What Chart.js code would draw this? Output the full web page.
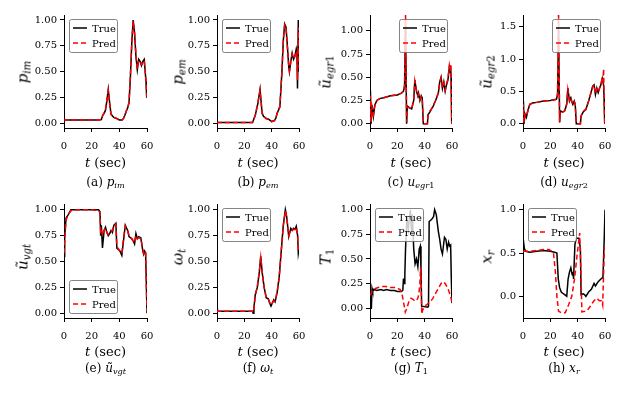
<!DOCTYPE html>
<html>
<head>
<meta charset="utf-8">
<script src="https://cdn.jsdelivr.net/npm/chart.js@4.4.1/dist/chart.umd.min.js"></script>
<style>
  body { margin: 0; background: #fff; }
  #fig { position: relative; width: 626px; height: 394px; overflow: hidden; font-family: 'DejaVu Serif', 'Liberation Serif', serif; }
  canvas { position: absolute; }
  .lbl { position: absolute; white-space: nowrap; color: #000; line-height: 1; font-weight: normal; }
  .ylab { font-size: 15px; transform: translate(-50%, -50%) rotate(-90deg); }
  .xlab { font-size: 13px; transform: translate(-50%, -50%); }
  .cap { font-size: 12px; transform: translate(-50%, -50%); }
  sub { font-size: 0.68em; vertical-align: -0.3em; line-height: 0; }
</style>
</head>
<body>
<div id="fig"></div>
<script>
// ---------- datos ----------
// (a) p_im
const aT    = [0, 1, 5, 10, 15, 20, 25, 27, 28, 29, 30, 31, 32, 33, 34, 36, 38, 40, 42, 43, 44, 45, 46, 47, 48, 49, 50, 51, 52, 53, 54, 55, 56, 57, 58, 58.7, 59.3, 59.8];
const aTrue = [0.035, 0.035, 0.035, 0.035, 0.035, 0.035, 0.035, 0.04, 0.08, 0.1, 0.13, 0.22, 0.33, 0.2, 0.09, 0.06, 0.05, 0.035, 0.035, 0.05, 0.08, 0.12, 0.15, 0.2, 0.45, 0.78, 1.0, 0.88, 0.65, 0.52, 0.62, 0.6, 0.56, 0.6, 0.62, 0.5, 0.4, 0.25];
const aPred = [0.035, 0.035, 0.035, 0.035, 0.035, 0.035, 0.035, 0.04, 0.08, 0.1, 0.14, 0.23, 0.32, 0.19, 0.09, 0.06, 0.05, 0.035, 0.035, 0.05, 0.08, 0.12, 0.15, 0.21, 0.46, 0.77, 0.99, 0.87, 0.66, 0.53, 0.61, 0.6, 0.57, 0.59, 0.61, 0.5, 0.41, 0.26];

// (b) p_em
const bT    = [0, 5, 10, 15, 20, 26, 28, 30, 31.5, 33, 34, 36, 38, 40, 42, 43, 44, 46, 47.5, 48.5, 49.5, 50.5, 51.5, 52.5, 53, 54, 55, 56, 57, 58, 58.5, 58.9, 59.5, 60];
const bTrue = [0.01, 0.01, 0.01, 0.01, 0.01, 0.01, 0.08, 0.2, 0.33, 0.1, 0.07, 0.05, 0.04, 0.02, 0.03, 0.05, 0.1, 0.16, 0.5, 0.8, 0.96, 0.93, 0.75, 0.55, 0.5, 0.6, 0.68, 0.62, 0.65, 0.72, 0.68, 0.34, 1.0, 0.5];
const bPred = [0.01, 0.01, 0.01, 0.01, 0.01, 0.01, 0.08, 0.21, 0.32, 0.11, 0.07, 0.05, 0.04, 0.02, 0.03, 0.05, 0.1, 0.17, 0.5, 0.79, 0.95, 0.92, 0.74, 0.56, 0.51, 0.6, 0.67, 0.63, 0.65, 0.7, 0.7, 0.42, 0.93, 0.55];

// (c) u_egr1 y (d) u_egr2 comparten instantes
const egrT    = [0, 0.3, 0.8, 1.5, 2.5, 3.5, 5, 7, 10, 15, 20, 23, 24.5, 25.3, 26, 26.8, 27.3, 29, 30.5, 32, 32.8, 34, 35, 35.5, 36.5, 37.5, 38.2, 39, 42, 42.5, 44, 45, 46, 48, 50, 51, 52, 53, 54, 55, 56, 57, 58, 58.5, 59, 59.3, 59.8];
const cTrue = [0.0, 0.36, 0.0, 0.2, 0.08, 0.2, 0.25, 0.27, 0.28, 0.3, 0.31, 0.33, 0.35, 0.4, 1.05, 0.0, 0.19, 0.17, 0.16, 0.25, 0.47, 0.35, 0.3, 0.33, 0.25, 0.3, 0.28, 0.0, 0.0, 0.1, 0.13, 0.16, 0.18, 0.25, 0.33, 0.45, 0.5, 0.38, 0.45, 0.35, 0.42, 0.47, 0.6, 0.55, 0.62, 0.5, 0.0];
const cPred = [0.02, 0.3, 0.02, 0.18, 0.1, 0.19, 0.25, 0.27, 0.28, 0.3, 0.31, 0.33, 0.35, 0.42, 1.2, 0.02, 0.18, 0.17, 0.16, 0.26, 0.46, 0.36, 0.3, 0.32, 0.26, 0.29, 0.27, 0.0, 0.0, 0.1, 0.14, 0.16, 0.19, 0.25, 0.33, 0.44, 0.49, 0.39, 0.44, 0.36, 0.43, 0.48, 0.62, 0.56, 0.64, 0.52, 0.0];
const dTrue = [0.0, 0.35, 0.0, 0.15, 0.1, 0.2, 0.3, 0.32, 0.33, 0.35, 0.36, 0.37, 0.38, 0.45, 1.45, 0.02, 0.2, 0.18, 0.2, 0.3, 0.55, 0.35, 0.4, 0.36, 0.3, 0.35, 0.3, 0.0, 0.0, 0.12, 0.18, 0.2, 0.22, 0.35, 0.5, 0.58, 0.6, 0.45, 0.55, 0.48, 0.55, 0.6, 0.7, 0.65, 0.6, 0.4, 0.0];
const dPred = [0.02, 0.3, 0.02, 0.14, 0.12, 0.19, 0.3, 0.32, 0.33, 0.35, 0.36, 0.37, 0.38, 0.47, 1.8, 0.03, 0.19, 0.18, 0.2, 0.31, 0.53, 0.36, 0.4, 0.35, 0.3, 0.34, 0.3, 0.0, 0.0, 0.12, 0.18, 0.21, 0.22, 0.35, 0.5, 0.57, 0.6, 0.46, 0.54, 0.49, 0.55, 0.6, 0.72, 0.66, 0.85, 0.45, 0.0];

// (e) u_vgt
const eT    = [0, 0.5, 1.5, 3, 5, 10, 15, 20, 25, 26, 26.5, 27, 27.8, 29, 30, 31, 32, 33, 34, 35, 36, 37.5, 38.2, 39, 40.5, 41.8, 43, 44.3, 46, 47, 49, 50, 51, 52, 53, 54, 55.5, 57, 57.6, 58.3, 59, 59.5, 60];
const eTrue = [0.55, 0.75, 0.92, 0.95, 1.0, 1.0, 1.0, 1.0, 1.0, 0.98, 0.75, 0.85, 0.63, 0.8, 0.83, 0.78, 0.75, 0.77, 0.8, 0.78, 0.85, 0.87, 0.63, 0.62, 0.6, 0.56, 0.7, 0.85, 0.8, 0.74, 0.72, 0.7, 0.67, 0.77, 0.72, 0.74, 0.73, 0.6, 0.57, 0.6, 0.58, 0.3, 0.0];
const ePred = [0.58, 0.7, 0.9, 0.95, 0.99, 1.0, 1.0, 1.0, 0.99, 0.97, 0.8, 0.82, 0.75, 0.8, 0.82, 0.78, 0.76, 0.77, 0.79, 0.8, 0.84, 0.86, 0.65, 0.63, 0.6, 0.58, 0.72, 0.84, 0.8, 0.75, 0.72, 0.7, 0.68, 0.75, 0.72, 0.73, 0.72, 0.62, 0.58, 0.6, 0.6, 0.3, 0.02];

// (f) omega_t
const fT    = [0, 0.3, 1, 5, 10, 15, 20, 26, 26.5, 27, 28, 29.5, 31, 32, 33, 34.5, 36, 37.5, 38.5, 39.5, 40.5, 41.5, 42.5, 44, 45.5, 47, 48.5, 50, 51, 52.5, 54, 55, 56, 57, 58, 59, 59.5, 60];
const fTrue = [0.05, 0.02, 0.02, 0.02, 0.02, 0.02, 0.02, 0.02, 0.0, 0.05, 0.18, 0.25, 0.4, 0.55, 0.4, 0.25, 0.15, 0.14, 0.1, 0.07, 0.1, 0.13, 0.11, 0.2, 0.35, 0.6, 0.85, 1.0, 0.93, 0.74, 0.82, 0.8, 0.82, 0.81, 0.84, 0.75, 0.58, 0.62];
const fPred = [0.03, 0.02, 0.02, 0.02, 0.02, 0.02, 0.02, 0.02, 0.01, 0.05, 0.17, 0.26, 0.41, 0.54, 0.41, 0.25, 0.16, 0.14, 0.11, 0.08, 0.1, 0.12, 0.12, 0.21, 0.34, 0.6, 0.84, 0.99, 0.93, 0.75, 0.81, 0.8, 0.81, 0.81, 0.83, 0.74, 0.6, 0.62];

// (g) T_1
const gTrueT = [0, 1, 1.5, 2, 3, 5, 8, 10, 12, 15, 18, 20, 23, 24, 24.5, 25, 25.5, 26, 27, 28, 29.5, 30.5, 31, 32, 33, 34, 35, 36, 36.8, 37.3, 37.8, 42.3, 42.8, 43.3, 45, 46.5, 47.3, 48.5, 50, 51, 52, 53, 54.5, 55.5, 56.5, 57.5, 58.3, 59, 59.5, 60];
const gTrue  = [0.0, 0.0, 0.2, 0.17, 0.19, 0.18, 0.19, 0.18, 0.19, 0.18, 0.18, 0.17, 0.17, 0.18, 0.3, 0.25, 0.35, 0.6, 0.93, 0.8, 1.0, 0.75, 0.95, 0.6, 0.45, 0.5, 0.42, 0.6, 0.63, 0.4, 0.02, 0.01, 0.02, 0.88, 0.9, 0.93, 1.0, 0.95, 0.78, 0.7, 0.6, 0.55, 0.72, 0.7, 0.6, 0.67, 0.63, 0.64, 0.3, 0.05];
const gPredT = [0, 2, 4, 6, 9, 12, 15, 18, 20, 22, 23.5, 24.8, 25.8, 27, 28.5, 30, 31.5, 33, 34, 35, 35.8, 36.5, 37, 37.5, 37.9, 38.5, 40, 42, 44, 46, 48, 50, 52, 53.5, 55, 57, 59, 59.8];
const gPred  = [0.13, 0.18, 0.2, 0.21, 0.22, 0.22, 0.21, 0.21, 0.2, 0.19, 0.14, 0.04, -0.04, 0.0, 0.07, 0.1, 0.09, 0.07, 0.08, 0.1, 0.15, 0.25, 0.41, 0.2, -0.06, -0.02, 0.02, 0.04, 0.06, 0.1, 0.15, 0.2, 0.25, 0.27, 0.25, 0.2, 0.12, 0.07];

// (h) x_r
const hTrueT = [0, 1, 2, 5, 10, 15, 20, 23, 24.8, 25.8, 26.8, 28, 29.5, 30.5, 32, 33, 34, 35, 36, 36.5, 37, 38, 39, 41, 42, 42.5, 44, 45, 46, 48, 50, 52, 53, 55, 57, 58.5, 59.5, 60];
const hTrue  = [0.68, 0.55, 0.52, 0.51, 0.52, 0.53, 0.52, 0.51, 0.5, 0.2, 0.1, 0.05, 0.03, 0.02, 0.0, 0.2, 0.28, 0.33, 0.25, 0.28, 0.2, 0.6, 0.67, 0.67, 0.55, 0.02, 0.03, 0.02, 0.0, 0.05, 0.08, 0.15, 0.12, 0.17, 0.2, 0.22, 0.7, 1.0];
const hPredT = [0, 5, 10, 15, 19, 21, 22.3, 23.6, 24.8, 26, 28, 30.9, 33.3, 35.7, 37.7, 39.4, 40.5, 41.5, 42.5, 43.1, 46.6, 49, 51.5, 53.9, 55.9, 57.6, 58.3, 59.5, 60];
const hPred  = [0.52, 0.52, 0.53, 0.54, 0.54, 0.52, 0.5, 0.3, 0.0, -0.17, -0.19, -0.19, -0.1, 0.0, 0.2, 0.45, 0.6, 0.73, 0.2, -0.18, -0.17, -0.12, -0.06, -0.02, -0.05, -0.05, -0.1, 0.55, 0.57];

// ticks
const xTicks = [0, 20, 40, 60];
const yTicksQuarter = [0, 0.25, 0.5, 0.75, 1];
const yTextQuarter  = ['0.00', '0.25', '0.50', '0.75', '1.00'];
const yTicksD = [0, 0.5, 1, 1.5];
const yTextD  = ['0.0', '0.5', '1.0', '1.5'];
const yTicksH = [0, 0.5, 1];
const yTextH  = ['0.0', '0.5', '1.0'];

// ---------- maquetación ----------
const cols = [{ left: 64, w: 83 }, { left: 217, w: 82 }, { left: 370, w: 82 }, { left: 523, w: 82 }];
const rows = [{ top: 15, h: 113, xlab: 162, cap: 182, ylab: 72 }, { top: 204, h: 114, xlab: 351, cap: 368, ylab: 257 }];
const ylabX = [23, 178, 326, 487];
const AXW = 48, AXH = 28, PADT = 6, PADR = 8;
const SERIF = "'DejaVu Serif', 'Liberation Serif', serif";
const tickFont = { family: SERIF, size: 10 };

// leyenda dentro del área del gráfico, como en matplotlib
const insideLegend = {
    id: 'insideLegend',
    afterDatasetsDraw(chart, args, opts) {
        const a = chart.chartArea;
        const ctx = chart.ctx;
        const w = 48, h = 33;
        const x = opts.pos === 'ur' ? a.right - 5 - w : a.left + 5;
        const y = opts.pos === 'll' ? a.bottom - 5 - h : a.top + 4;
        ctx.save();
        ctx.beginPath();
        ctx.roundRect(x + 0.5, y + 0.5, w, h, 2);
        ctx.fillStyle = 'rgba(255,255,255,0.8)';
        ctx.fill();
        ctx.strokeStyle = '#666';
        ctx.lineWidth = 0.8;
        ctx.stroke();
        chart.data.datasets.forEach((ds, i) => {
            const ly = y + 9 + i * 15;
            ctx.beginPath();
            ctx.setLineDash(ds.borderDash || []);
            ctx.strokeStyle = ds.borderColor;
            ctx.lineWidth = ds.borderWidth;
            ctx.moveTo(x + 4, ly);
            ctx.lineTo(x + 18, ly);
            ctx.stroke();
            ctx.setLineDash([]);
            ctx.fillStyle = '#000';
            ctx.font = '10px ' + SERIF;
            ctx.textBaseline = 'middle';
            ctx.fillText(ds.label, x + 23, ly + 1);
        });
        ctx.restore();
    }
};

const fig = document.getElementById('fig');

function addLabel(cls, html, x, y) {
    const d = document.createElement('div');
    d.className = 'lbl ' + cls;
    d.innerHTML = html;
    d.style.left = x + 'px';
    d.style.top = y + 'px';
    fig.appendChild(d);
}

function toPts(t, v) {
    return t.map((x, i) => ({ x: x, y: v[i] }));
}

function makePanel(p) {
    const c = cols[p.col], r = rows[p.row];
    const cv = document.createElement('canvas');
    const W = AXW + c.w + PADR, H = PADT + r.h + AXH;
    cv.width = W; cv.height = H;
    cv.style.left = (c.left - AXW) + 'px';
    cv.style.top = (r.top - PADT) + 'px';
    cv.style.width = W + 'px';
    cv.style.height = H + 'px';
    fig.appendChild(cv);

    new Chart(cv, {
        type: 'line',
        data: {
            datasets: [{
                label: 'True',
                data: toPts(p.tTrue, p.vTrue),
                borderColor: '#000000',
                borderWidth: 1.5,
                pointRadius: 0,
                tension: 0,
                order: 2
            }, {
                label: 'Pred',
                data: toPts(p.tPred, p.vPred),
                borderColor: '#ff0000',
                borderWidth: 1.5,
                borderDash: [5, 3],
                pointRadius: 0,
                tension: 0,
                order: 1
            }]
        },
        options: {
            responsive: false,
            animation: false,
            devicePixelRatio: 1,
            layout: { padding: { top: PADT, right: PADR, left: 0, bottom: 0 } },
            plugins: {
                legend: { display: false },
                tooltip: { enabled: false },
                insideLegend: { pos: p.legend }
            },
            scales: {
                x: {
                    type: 'linear',
                    min: 0, max: 60,
                    afterBuildTicks: s => { s.ticks = xTicks.map(v => ({ value: v })); },
                    // alto fijo y sin relleno lateral, para que el área quede donde está en la figura
                    afterFit: s => { s.height = AXH; s.paddingLeft = 0; s.paddingRight = 0; },
                    grid: { drawOnChartArea: false, tickLength: 4, color: '#000' },
                    border: { color: '#000', width: 1 },
                    ticks: { font: tickFont, color: '#000', padding: 8, maxRotation: 0, callback: v => String(v) }
                },
                y: {
                    min: p.yMin, max: p.yMax,
                    afterBuildTicks: s => { s.ticks = p.yTicks.map(v => ({ value: v })); },
                    afterFit: s => { s.width = AXW; s.paddingTop = 0; s.paddingBottom = 0; },
                    grid: { drawOnChartArea: false, tickLength: 4, color: '#000' },
                    border: { color: '#000', width: 1 },
                    ticks: { font: tickFont, color: '#000', padding: 3, callback: (v, i) => p.yText[i] }
                }
            }
        },
        plugins: [insideLegend]
    });

    const cx = c.left + c.w / 2;
    addLabel('ylab', p.ylab, ylabX[p.col], r.ylab);
    addLabel('xlab', '<i>t</i> (sec)', cx, r.xlab);
    addLabel('cap', p.cap, cx, r.cap);
}

makePanel({ col: 0, row: 0, tTrue: aT, vTrue: aTrue, tPred: aT, vPred: aPred, yMin: -0.042, yMax: 1.048,
    yTicks: yTicksQuarter, yText: yTextQuarter, legend: 'ul',
    ylab: '<i>p</i><sub><i>im</i></sub>', cap: '(a) <i>p</i><sub><i>im</i></sub>' });
makePanel({ col: 1, row: 0, tTrue: bT, vTrue: bTrue, tPred: bT, vPred: bPred, yMin: -0.042, yMax: 1.048,
    yTicks: yTicksQuarter, yText: yTextQuarter, legend: 'ul',
    ylab: '<i>p</i><sub><i>em</i></sub>', cap: '(b) <i>p</i><sub><i>em</i></sub>' });
makePanel({ col: 2, row: 0, tTrue: egrT, vTrue: cTrue, tPred: egrT, vPred: cPred, yMin: -0.046, yMax: 1.17,
    yTicks: yTicksQuarter, yText: yTextQuarter, legend: 'ur',
    ylab: '<i>ũ</i><sub><i>egr</i>1</sub>', cap: '(c) <i>u</i><sub><i>egr</i>1</sub>' });
makePanel({ col: 3, row: 0, tTrue: egrT, vTrue: dTrue, tPred: egrT, vPred: dPred, yMin: -0.066, yMax: 1.68,
    yTicks: yTicksD, yText: yTextD, legend: 'ur',
    ylab: '<i>ũ</i><sub><i>egr</i>2</sub>', cap: '(d) <i>u</i><sub><i>egr</i>2</sub>' });
makePanel({ col: 0, row: 1, tTrue: eT, vTrue: eTrue, tPred: eT, vPred: ePred, yMin: -0.045, yMax: 1.055,
    yTicks: yTicksQuarter, yText: yTextQuarter, legend: 'll',
    ylab: '<i>ũ</i><sub><i>vgt</i></sub>', cap: '(e) <i>ũ</i><sub><i>vgt</i></sub>' });
makePanel({ col: 1, row: 1, tTrue: fT, vTrue: fTrue, tPred: fT, vPred: fPred, yMin: -0.045, yMax: 1.055,
    yTicks: yTicksQuarter, yText: yTextQuarter, legend: 'ul',
    ylab: '<i>ω</i><sub><i>t</i></sub>', cap: '(f) <i>ω</i><sub><i>t</i></sub>' });
makePanel({ col: 2, row: 1, tTrue: gTrueT, vTrue: gTrue, tPred: gPredT, vPred: gPred, yMin: -0.10, yMax: 1.058,
    yTicks: yTicksQuarter, yText: yTextQuarter, legend: 'ul',
    ylab: '<i>T</i><sub>1</sub>', cap: '(g) <i>T</i><sub>1</sub>' });
makePanel({ col: 3, row: 1, tTrue: hTrueT, vTrue: hTrue, tPred: hPredT, vPred: hPred, yMin: -0.25, yMax: 1.066,
    yTicks: yTicksH, yText: yTextH, legend: 'ul',
    ylab: '<i>x</i><sub><i>r</i></sub>', cap: '(h) <i>x</i><sub><i>r</i></sub>' });
</script>
</body>
</html>
